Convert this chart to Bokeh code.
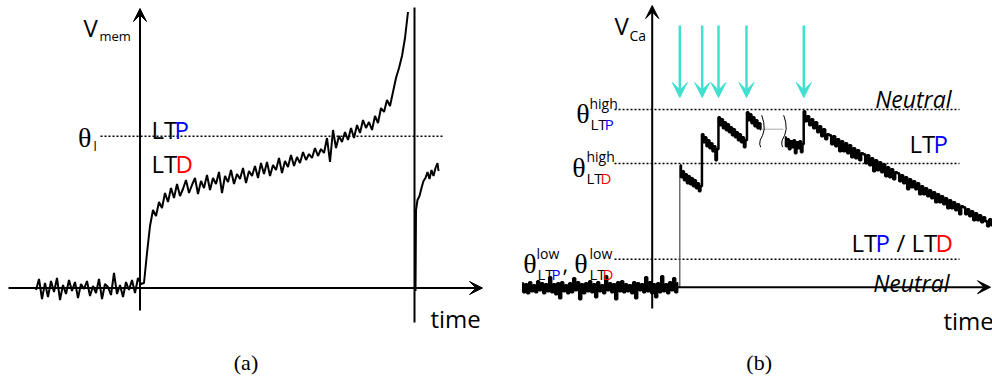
import numpy as np
from bokeh.plotting import figure
from bokeh.layouts import row
from bokeh.models import Range1d, Arrow, VeeHead
from bokeh.core.properties import value
from bokeh.embed import file_html
from bokeh.resources import INLINE

SANS = "Open Sans"
SERIF = "Liberation Serif"
BLUE = "#0000ff"
RED = "#ff0000"
CYAN = "#40e0d0"

# ---------------- Panel (a): membrane potential ----------------
a_t0, a_dt = -104, 3
a_vmem = [-2, 9, -11, 5, -9, 7, -4, 10, -12, 3,
          -6, 8, -3, 6, -10, 4, -1, 7, -8, 2,
          -5, 9, -11, 4, 1, -7, 15, -6, 3, -9,
          6, -2, 8, -5, 10, 4,
          5, 35, 62, 78, 72, 86, 80, 95, 86, 100,
          90, 104, 92, 99, 108, 95, 103, 110, 94, 107,
          100, 113, 98, 110, 104, 116, 95, 112, 106, 118,
          104, 114, 109, 120, 105, 117, 112, 122, 110, 125,
          114, 126, 112, 123, 118, 130, 115, 127, 121, 133,
          122, 131, 125, 136, 128, 134, 130, 140, 132, 139,
          135, 150, 126, 158, 140, 152, 146, 156, 148, 160,
          150, 163, 155, 168, 160, 166, 158, 172, 165, 180,
          176, 188, 182, 196, 210, 220, 232, 250, 276]
a_recov_t = [275.5, 276, 277.5, 279.5, 281.5, 283.5, 285.5, 287.5, 289.5, 291.5, 293.5, 295.5, 297.5, 298.5]
a_recov_v = [-3, 78, 88, 92, 100, 107, 110, 116, 109, 118, 112, 120, 125, 117]
a_spike_t = 274.5
a_spike_v = [-34.5, 280.5]
a_theta_l = 151.8

# ---------------- Panel (b): calcium variable ----------------
b_base_t0, b_base_dt = -130, 2
b_base_v = [4, -5, 3, -6, 5, -4, 2, -5, 6, -3,
            4, -6, 3, -4, 10, -5, 3, -7, 4, -11,
            5, -4, 2, -6, 4, -5, 9, -3, 5, -12,
            3, -6, 4, -4, 6, -5, 3, -10, 5, -4,
            2, -6, 11, -3, 4, -5, 3, -12, 5, -4,
            6, -5, 3, -4, 2, -6, 5, -11, 4, -3,
            3, -5, 10, -4, 5, -6, 3, -10, 4, -5,
            11, -4, 3, -6, 5, -3, 9, -5, 4]
b_jump_t = 27.6
b_seg1_t0, b_seg1_dt = 28, 1.5
b_seg1_v = [122, 110, 116, 107, 113, 104, 111, 103, 109, 101, 107, 99, 104, 96, 101,
            153, 145, 150, 141, 147, 139, 144, 136, 141, 127, 138,
            170, 162, 168, 159, 165, 157, 163, 155, 160, 152, 158, 150, 155, 147, 153, 145, 150, 140, 147,
            175, 167, 173, 164, 170, 161, 167, 159, 164, 158]
b_gap_t = [110, 131]
b_gap_v = [158, 158]
b_break_t = [109.5, 131.5]
b_squig_dt = [0, 2, 2.5, 1, -1.5, -2, -1]
b_squig_v = [172, 165, 158, 152, 147, 143, 140]
b_seg2_t0, b_seg2_dt = 133, 1.5
b_seg2_v = [150, 141, 148, 138, 146, 140, 147, 134, 145, 139, 146, 135, 143]
b_decay_t0, b_decay_dt = 152, 2
b_decay_v = [176, 166, 171, 162, 168, 159, 165, 155, 161, 151, 158, 148, 153,
             152, 143, 151, 141, 148, 136, 146, 136, 144, 134, 142, 130, 139, 129, 137, 127, 134,
             133, 124, 132, 122, 129, 116, 127, 117, 125, 115, 123, 111, 120, 110, 118, 108, 115,
             114, 106, 112, 104, 110, 98, 108, 100, 106, 98, 104, 93, 101, 93, 99, 91,
             97, 89, 95, 85, 93, 85, 91, 83, 89, 79, 87, 79, 85, 77, 83, 73, 81,
             80, 73, 78, 71, 76, 67, 74, 67, 72, 65, 70, 66, 61, 68, 62]
b_stim_t = [27.6, 50, 66.3, 94.3, 151.6]
b_theta_ltp_high = 177.7
b_theta_ltd_high = 123.7
b_theta_low = 28


def make_fig(xr, yr):
    p = figure(width=496, height=379, x_range=Range1d(*xr), y_range=Range1d(*yr),
               output_backend="svg", toolbar_location=None,
               x_axis_type=None, y_axis_type=None, min_border=0)
    p.grid.visible = False
    p.outline_line_color = None
    p.background_fill_color = "white"
    p.border_fill_color = "white"
    return p


def txt(p, x, y, s, size, color="black", font=SANS, style="normal", align="left"):
    p.text(x=[x], y=[y], text=[s], text_font=value(font), text_font_size=value(f"{size}px"),
           text_color=color, text_font_style=style, text_align=align, text_baseline="alphabetic")


def axis_arrow(p, x0, y0, x1, y1):
    p.add_layout(Arrow(end=VeeHead(size=13, fill_color="black", line_color="black", line_width=1),
                       x_start=x0, y_start=y0, x_end=x1, y_end=y1,
                       line_width=2, line_color="black"))


# ---------------- figure (a) ----------------
pa = make_fig((-139.5, 356.5), (-91.5, 287.5))
axis_arrow(pa, 0, -22.5, 0, 279.5)
axis_arrow(pa, -131.5, 0, 342.5, 0)
pa.line([-39.5, 303.5], [a_theta_l, a_theta_l], line_color="black", line_width=1.5, line_dash="2 2")
a_t = a_t0 + a_dt * np.arange(len(a_vmem))
pa.line(a_t, a_vmem, line_color="black", line_width=2)
pa.line([a_spike_t, a_spike_t], a_spike_v, line_color="black", line_width=2)
pa.line(a_recov_t, a_recov_v, line_color="black", line_width=2)

txt(pa, -56.5, 260.5, "V", 24)
txt(pa, -40.5, 252.5, "mem", 13)
txt(pa, -62, 150.5, "θ", 28, font=SERIF)
txt(pa, -46.5, 142.5, "l", 13)
txt(pa, 11.5, 158.5, "LT", 24)
txt(pa, 34.5, 158.5, "P", 24, color=BLUE)
txt(pa, 11.5, 124.5, "LT", 24)
txt(pa, 35.5, 124.5, "D", 24, color=RED)
txt(pa, 290.5, -30.5, "time", 24)
txt(pa, 106, -74.5, "(a)", 22, font=SERIF, align="center")

# ---------------- figure (b) ----------------
pb = make_fig((-155.7, 340.3), (-92.3, 286.7))
axis_arrow(pb, 0, -21.3, 0, 281.7)
axis_arrow(pb, -129.7, 0, 338.3, 0)
for th in (b_theta_ltp_high, b_theta_ltd_high, b_theta_low):
    pb.line([-37.7, 307.3], [th, th], line_color="black", line_width=1.5, line_dash="2 2")

b_base_t = b_base_t0 + b_base_dt * np.arange(len(b_base_v))
pb.step(b_base_t, b_base_v, mode="center", line_color="black", line_width=2.5)
pb.line([b_base_t[-1], b_jump_t, b_jump_t], [0, 0, b_seg1_v[0]], line_color="#555555", line_width=1.3)
b_seg1_t = b_seg1_t0 + b_seg1_dt * np.arange(len(b_seg1_v))
pb.step(b_seg1_t, b_seg1_v, mode="center", line_color="black", line_width=2.5)
pb.line(b_gap_t, b_gap_v, line_color="#aaaaaa", line_width=1)
for bt in b_break_t:
    pb.line([bt + d for d in b_squig_dt], b_squig_v, line_color="black", line_width=1)
b_seg2_t = np.concatenate([b_seg2_t0 + b_seg2_dt * np.arange(len(b_seg2_v)),
                           b_decay_t0 + b_decay_dt * np.arange(len(b_decay_v))])
b_seg2_all = list(b_seg2_v) + list(b_decay_v)
pb.step(b_seg2_t, b_seg2_all, mode="center", line_color="black", line_width=2.5)

for st in b_stim_t:
    pb.add_layout(Arrow(end=VeeHead(size=15, fill_color=CYAN, line_color=CYAN, line_width=1),
                        x_start=st, y_start=261.7, x_end=st, y_end=189.7,
                        line_width=2.5, line_color=CYAN))

txt(pb, -37.7, 261.7, "V", 24)
txt(pb, -22.7, 251.7, "Ca", 14)
txt(pb, 299.3, 188.7, "Neutral", 23, style="italic", align="right")
txt(pb, 257.3, 143.7, "LT", 24)
txt(pb, 281.3, 143.7, "P", 24, color=BLUE)
txt(pb, 199.3, 44.7, "LT", 24)
txt(pb, 223.3, 44.7, "P", 24, color=BLUE)
txt(pb, 244.3, 44.7, "/", 24)
txt(pb, 259.3, 44.7, "LT", 24)
txt(pb, 283.3, 44.7, "D", 24, color=RED)
txt(pb, 297.3, 4.7, "Neutral", 23, style="italic", align="right")
txt(pb, 291.3, -33.3, "time", 24)

txt(pb, -76, 173.7, "θ", 28, font=SERIF)
txt(pb, -62.7, 183.7, "high", 14)
txt(pb, -61.7, 163.7, "LT", 15)
txt(pb, -47.4, 163.7, "P", 15, color=BLUE)

txt(pb, -80, 119.7, "θ", 28, font=SERIF)
txt(pb, -65.7, 130.7, "high", 14)
txt(pb, -65.7, 109.7, "LT", 15)
txt(pb, -51.7, 109.7, "D", 15, color=RED)

txt(pb, -129, 23.7, "θ", 28, font=SERIF)
txt(pb, -115.7, 33.7, "low", 14)
txt(pb, -114.7, 13.7, "LT", 15)
txt(pb, -100.7, 13.7, "P", 15, color=BLUE)
txt(pb, -89.7, 23.7, ",", 22)
txt(pb, -78, 23.7, "θ", 28, font=SERIF)
txt(pb, -62.7, 33.7, "low", 14)
txt(pb, -62.7, 13.7, "LT", 15)
txt(pb, -49.7, 13.7, "D", 15, color=RED)

txt(pb, 107, -75.3, "(b)", 22, font=SERIF, align="center")

layout = row(pa, pb, spacing=0)
open("out.html", "w").write(file_html(layout, INLINE))
